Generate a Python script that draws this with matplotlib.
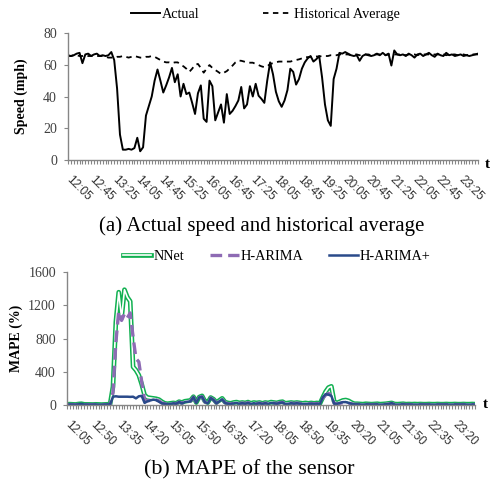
import matplotlib
matplotlib.use('Agg')
import matplotlib.pyplot as plt
import matplotlib.transforms as mtransforms
import numpy as np

# speed (mph), 5-min samples from 12:05 to 23:55
actual = [66, 65.5, 66, 67, 67.5, 61, 66.5, 67, 65.5, 66.5, 67, 65.5, 66, 65.5, 66, 68,
          63, 45, 16, 6.5, 6.5, 7, 6.5, 7.5, 14, 5.5, 8, 28, 34, 40, 50, 57,
          50, 42.5, 47, 52, 58, 49, 54, 40, 48, 41.5, 42.5, 36, 29, 42, 47, 26,
          24, 50, 46.5, 25, 30, 35, 23.5, 41.5, 29, 31, 34, 37.5, 46, 32.5, 35, 46.5,
          40, 48, 40.5, 38.5, 36, 50, 61.5, 54, 43, 37, 33.5, 37.5, 44, 57.5, 55.5, 47.5,
          51, 57.5, 61.5, 64, 65.5, 62, 63.5, 65.5, 52, 35, 25, 21.5, 51, 57.5, 67.5, 67,
          68, 67, 66, 65.5, 66, 62.5, 65.5, 66.5, 66, 65.5, 66, 67, 66, 67.5, 66, 67,
          59.5, 69, 66.5, 66, 66.5, 65.5, 67, 66, 64.5, 66.5, 67, 65.5, 66.5, 67.5, 66, 65,
          67, 66, 65.5, 67.5, 66, 66.5, 65.5, 66, 66.5, 65.5, 66, 65.5, 66, 66.5, 67]
hist_avg = [65.5, 65.5, 66, 66, 65.5, 65.5, 66, 65.5, 65.5, 66, 65.5, 65.5, 65.5, 65, 64.5, 64.5,
            64.5, 65, 65, 65.5, 65, 64.5, 65, 65.5, 65, 64.5, 64.5, 65, 65, 65.5, 65, 64,
            63, 62, 61.5, 61.5, 61, 61.5, 61.5, 60, 59, 57.5, 55.5, 57.5, 60, 60.5, 58, 55,
            57.5, 59.8, 58, 56.7, 55.5, 54.2, 55, 56, 57.7, 59.5, 61.5, 62.6, 62.5, 62, 61.5, 61.3,
            61.3, 60.5, 59.8, 59, 58.5, 59, 60.5, 61, 61.5, 62, 62, 62, 62, 62, 62.5, 63,
            63.4, 64, 64.7, 64.8, 65, 65, 65.2, 65.2, 65.5, 65.5, 65.5, 66, 66, 66, 66.5, 66.5,
            66.5, 66.5, 66, 66.5, 66.5, 66, 66.5, 66.5, 66.5, 66, 66.5, 66.5, 66.5, 66.5, 66, 66.5,
            66.5, 66.5, 66.5, 66.5, 66.5, 66, 66.5, 66.5, 66.5, 66, 66.5, 66.5, 66.5, 66.5, 66, 66.5,
            66.5, 66.5, 66.5, 66, 66.5, 66.5, 66.5, 66, 66.5, 66.5, 66, 66.5, 66.5, 66.5, 66.5]

# MAPE (%)
nnet = [8, 10, 8, 6, 12, 15, 8, 7, 5, 6, 8, 6, 5, 7, 8, 10,
        220, 1000, 1360, 1050, 1390, 1300, 1250, 460, 420, 360, 250, 120, 90, 85, 80, 75,
        65, 40, 20, 15, 20, 25, 20, 40, 30, 45, 50, 55, 100, 30, 95, 110,
        45, 30, 90, 70, 30, 55, 80, 35, 25, 20, 30, 35, 25, 30, 25, 35,
        20, 30, 25, 30, 20, 30, 25, 35, 30, 25, 35, 40, 20, 25, 30, 25,
        30, 25, 20, 25, 20, 25, 20, 25, 15, 90, 160, 210, 225, 40, 25, 40,
        55, 60, 50, 30, 15, 15, 12, 10, 15, 12, 10, 12, 15, 10, 12, 15,
        20, 25, 12, 10, 12, 15, 10, 12, 10, 12, 10, 12, 10, 10, 12, 10,
        10, 12, 10, 10, 12, 10, 10, 12, 10, 10, 12, 10, 10, 12, 10]
h_arima = [5, 6, 5, 4, 8, 12, 6, 5, 4, 5, 6, 5, 4, 5, 6, 6,
           150, 750, 1130, 1020, 1100, 1050, 1110, 820, 560, 520, 280, 60, 50, 55, 60, 60,
           50, 25, 15, 12, 15, 20, 15, 35, 22, 35, 42, 48, 95, 25, 90, 100,
           35, 22, 85, 62, 22, 47, 72, 27, 17, 14, 22, 28, 18, 24, 18, 28,
           14, 24, 18, 24, 14, 24, 18, 28, 24, 18, 28, 32, 14, 18, 24, 18,
           24, 18, 14, 18, 14, 18, 14, 18, 12, 80, 120, 140, 120, 20, 12, 20,
           28, 30, 22, 15, 8, 8, 6, 5, 8, 6, 5, 6, 8, 5, 6, 8,
           12, 20, 6, 5, 6, 8, 5, 6, 5, 6, 5, 6, 5, 5, 6, 5,
           5, 6, 5, 5, 6, 5, 5, 6, 5, 5, 6, 5, 5, 6, 5]
h_arima_plus = [5, 6, 5, 4, 8, 14, 6, 5, 4, 5, 6, 5, 4, 5, 6, 8,
                100, 105, 100, 100, 100, 100, 98, 100, 80, 105, 110, 25, 45, 55, 65, 60,
                40, 20, 15, 10, 15, 20, 15, 35, 20, 35, 40, 45, 95, 25, 90, 100,
                35, 20, 85, 60, 20, 45, 70, 25, 15, 12, 20, 25, 15, 22, 15, 25,
                12, 22, 15, 22, 12, 22, 15, 25, 22, 15, 25, 30, 12, 15, 22, 15,
                22, 15, 12, 15, 12, 15, 12, 15, 10, 90, 130, 125, 110, 15, 15, 25,
                35, 35, 25, 15, 8, 8, 6, 5, 8, 6, 5, 6, 8, 5, 6, 8,
                12, 22, 6, 5, 6, 8, 5, 6, 5, 6, 5, 6, 5, 5, 6, 5,
                5, 6, 5, 5, 6, 5, 5, 6, 5, 5, 6, 5, 5, 6, 5]

top_labels = ['12:05', '12:45', '13:25', '14:05', '14:45', '15:25', '16:05', '16:45', '17:25',
              '18:05', '18:45', '19:25', '20:05', '20:45', '21:25', '22:05', '22:45', '23:25']
bottom_labels = ['12:05', '12:50', '13:35', '14:20', '15:05', '15:50', '16:35', '17:20',
                 '18:05', '18:50', '19:35', '20:20', '21:05', '21:50', '22:35', '23:20']

serif = 'Liberation Serif'
sans = 'Liberation Sans'
gray = '#868686'

fig = plt.figure(figsize=(4.96, 4.83), dpi=100)
ax1 = fig.add_axes([68 / 496, 1 - 160 / 483, 410 / 496, 127 / 483])
ax2 = fig.add_axes([67 / 496, 1 - 405 / 483, 408 / 496, 132.7 / 483])


def style_axis(ax, n, step, labels):
    for s in ['top', 'right']:
        ax.spines[s].set_visible(False)
    for s in ['left', 'bottom']:
        ax.spines[s].set_color(gray)
        ax.spines[s].set_linewidth(1.0)
    ax.set_xlim(0, n - 1)
    ax.set_xticks(np.arange(0, n, step)[:len(labels)])
    ax.set_xticks(np.arange(n), minor=True)
    ax.set_xticklabels(labels, rotation=-45, ha='left', va='top', rotation_mode='anchor',
                       fontsize=8.6, family=sans, color='#333333')
    ax.tick_params(axis='x', which='both', length=3, width=0.8, color=gray, pad=7)
    ax.tick_params(axis='y', length=3, width=0.8, color=gray, pad=5)
    for lab in ax.get_yticklabels():
        lab.set_family(serif)
        lab.set_fontsize(10)
        lab.set_color('#404040')
    off = mtransforms.ScaledTranslation(4 / 100, 0, fig.dpi_scale_trans)
    for lab in ax.get_xticklabels():
        lab.set_transform(lab.get_transform() + off)


# (a) actual speed
x = np.arange(len(actual))
ax1.plot(x, actual, color='black', lw=1.4, label='Actual')
ax1.plot(x, hist_avg, color='black', lw=1.3, ls=(0, (3, 2.5)), label='Historical Average')
ax1.set_ylim(0, 80)
ax1.set_yticks([0, 20, 40, 60, 80])
style_axis(ax1, len(actual), 8, top_labels)
ax1.set_ylabel('Speed (mph)', family=serif, fontweight='bold', fontsize=10)
ax1.yaxis.set_label_coords(-0.098, 0.5)
ax1.text(1.024, -0.035, 't', transform=ax1.transAxes, family=serif, fontweight='bold',
         fontsize=11, ha='center', va='center')
fig.legend(handles=ax1.get_lines(), loc='center', bbox_to_anchor=(0.535, 0.969), ncol=2,
           frameon=False, prop={'family': serif, 'size': 10.3}, handlelength=2.0,
           handletextpad=0.15, columnspacing=4.45)

# (b) MAPE
x2 = np.arange(len(nnet))
g1, = ax2.plot(x2, nnet, color='#10B050', lw=3.4, solid_joinstyle='round')
g2, = ax2.plot(x2, nnet, color='white', lw=1.2, solid_joinstyle='round')
p1, = ax2.plot(x2, h_arima, color='#8E6BB4', lw=2.4, ls=(0, (3.5, 1.8)))
b1, = ax2.plot(x2, h_arima_plus, color='#2A4A8A', lw=1.8)
ax2.set_ylim(0, 1600)
ax2.set_yticks([0, 400, 800, 1200, 1600])
style_axis(ax2, len(nnet), 9, bottom_labels)
ax2.set_ylabel('MAPE (%)', family=serif, fontweight='bold', fontsize=10)
ax2.yaxis.set_label_coords(-0.108, 0.5)
ax2.text(1.025, 0.0, 't', transform=ax2.transAxes, family=serif, fontweight='bold',
         fontsize=11, ha='center', va='center')
fig.legend(handles=[(g1, g2), p1, b1], labels=['NNet', 'H-ARIMA', 'H-ARIMA+'], loc='center',
           bbox_to_anchor=(0.558, 0.468), ncol=3, frameon=False,
           prop={'family': serif, 'size': 10.3}, handlelength=2.0, handletextpad=0.15,
           columnspacing=1.8)

fig.text(0.528, 1 - 226 / 483, '(a) Actual speed and historical average', family=serif,
         fontsize=15, ha='center', va='center')
fig.text(0.502, 1 - 470 / 483, '(b) MAPE of the sensor', family=serif,
         fontsize=15.8, ha='center', va='center')

fig.savefig('out.png', dpi=100)
